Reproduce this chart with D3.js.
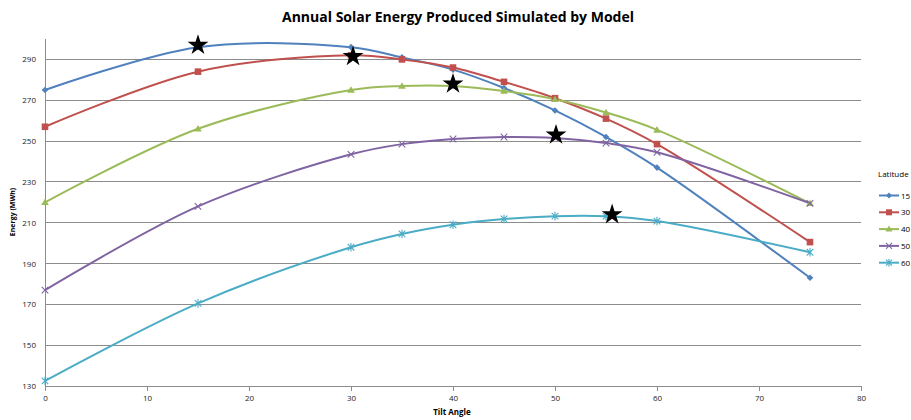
<!DOCTYPE html>
<html><head><meta charset="utf-8">
<script src="https://cdn.jsdelivr.net/npm/d3@7/dist/d3.min.js"></script>
<style>body{margin:0;background:#fff;}svg{display:block;}</style>
</head><body><svg id="c" width="911" height="420"></svg>
<script>
const tilts = [0, 15, 30, 35, 40, 45, 50, 55, 60, 75];
const latitudes = ["15", "30", "40", "50", "60"];
const lat15 = [275, 296, 296, 291, 285, 276, 265, 252, 237, 183];
const lat30 = [257, 284, 292, 290, 286, 279, 271, 261, 248.5, 200.5];
const lat40 = [220, 256, 275, 277, 277, 274.5, 270.5, 264, 255.5, 219.5];
const lat50 = [177, 218, 243.5, 248.5, 251, 252, 251.5, 249, 244.5, 219.5];
const lat60 = [132.5, 170.5, 198, 204.5, 209, 211.8, 213.2, 213.2, 210.8, 195.5];
const optTilt = [15, 30.2, 40, 50.1, 55.6];
const optEnergy = [297, 291.5, 278, 253, 214];
const xTicks = [0, 10, 20, 30, 40, 50, 60, 70, 80];
const yTicks = [130, 150, 170, 190, 210, 230, 250, 270, 290];
const colors = ["#4F81BD", "#C0504D", "#9BBB59", "#8064A2", "#4BACC6"];
const shapes = ["diamond", "square", "triangle", "x", "asterisk"];

const seriesValues = [lat15, lat30, lat40, lat50, lat60];
const svg = d3.select("#c");
const font = "'Open Sans', 'Liberation Sans', sans-serif";

const x = d3.scaleLinear().domain([0, 80]).range([45, 861]);
const y = d3.scaleLinear().domain([130, 300]).range([386, 39]);

// gridlines
svg.append("g").selectAll("line").data(yTicks.slice(1)).join("line")
  .attr("x1", x(0)).attr("x2", x(80))
  .attr("y1", d => y(d)).attr("y2", d => y(d))
  .attr("stroke", "#8c8c8c").attr("stroke-width", 1).attr("shape-rendering", "crispEdges");

// axes
const xAxis = svg.append("g").attr("transform", `translate(0,${y(130)})`)
  .call(d3.axisBottom(x).tickValues(xTicks).tickSize(5).tickPadding(4).tickFormat(d3.format("d")));
const yAxis = svg.append("g").attr("transform", `translate(${x(0)},0)`)
  .call(d3.axisLeft(y).tickValues(yTicks).tickSize(0).tickPadding(9).tickFormat(d3.format("d")));
[xAxis, yAxis].forEach(a => {
  a.select(".domain").attr("stroke", "#8c8c8c").attr("shape-rendering", "crispEdges");
  a.selectAll(".tick line").attr("stroke", "#8c8c8c").attr("shape-rendering", "crispEdges");
  a.selectAll("text").attr("font-family", font).attr("font-size", 8).attr("fill", "#222");
});
yAxis.select(".domain").attr("d", `M0,${y(300)}V${y(130)}`);

// lines
const line = d3.line().x((d, i) => x(tilts[i])).y(d => y(d)).curve(d3.curveCatmullRom.alpha(0.5));
seriesValues.forEach((vals, k) => {
  svg.append("path").attr("d", line(vals)).attr("fill", "none")
    .attr("stroke", colors[k]).attr("stroke-width", 2);
});

function marker(g, shape, color, s) {
  if (shape === "diamond") {
    g.append("path").attr("d", `M0,${-s}L${s},0L0,${s}L${-s},0Z`).attr("fill", color);
  } else if (shape === "square") {
    g.append("rect").attr("x", -s).attr("y", -s).attr("width", 2 * s).attr("height", 2 * s).attr("fill", color);
  } else if (shape === "triangle") {
    g.append("path").attr("d", `M0,${-s - 0.5}L${s + 0.5},${s - 0.5}L${-s - 0.5},${s - 0.5}Z`).attr("fill", color);
  } else if (shape === "x") {
    g.append("path").attr("d", `M${-s},${-s}L${s},${s}M${-s},${s}L${s},${-s}`).attr("stroke", color).attr("stroke-width", 1.1);
  } else {
    g.append("path").attr("d", `M${-s},${-s}L${s},${s}M${-s},${s}L${s},${-s}M0,${-s - 1}V${s + 1}`).attr("stroke", color).attr("stroke-width", 1.1);
  }
}
seriesValues.forEach((vals, k) => {
  vals.forEach((v, i) => {
    const g = svg.append("g").attr("transform", `translate(${x(tilts[i])},${y(v)})`);
    marker(g, shapes[k], colors[k], 3.3);
  });
});

// stars (optimum)
const star = d3.symbol().type(d3.symbolStar).size(135);
svg.append("g").selectAll("path").data(optTilt).join("path")
  .attr("d", star)
  .attr("transform", (d, i) => `translate(${x(d)},${y(optEnergy[i])})`)
  .attr("fill", "#000");

// title
svg.append("text").attr("x", 458).attr("y", 22).attr("text-anchor", "middle")
  .attr("font-family", font).attr("font-weight", "bold").attr("font-size", 14).attr("fill", "#000")
  .text("Annual Solar Energy Produced Simulated by Model");

// axis titles
svg.append("text").attr("x", 452).attr("y", 415).attr("text-anchor", "middle")
  .attr("font-family", font).attr("font-weight", "bold").attr("font-size", 8).attr("fill", "#000")
  .text("Tilt Angle");
svg.append("text").attr("transform", `translate(15,${212}) rotate(-90)`).attr("text-anchor", "middle")
  .attr("font-family", font).attr("font-weight", "bold").attr("font-size", 7).attr("fill", "#000")
  .text("Energy (MWh)");

// legend
svg.append("text").attr("x", 878).attr("y", 177).attr("font-family", font).attr("font-size", 8).attr("fill", "#000").text("Latitude");
latitudes.forEach((lab, k) => {
  const ly = 195.5 + k * 16.8;
  svg.append("line").attr("x1", 879).attr("x2", 899).attr("y1", ly).attr("y2", ly).attr("stroke", colors[k]).attr("stroke-width", 2);
  marker(svg.append("g").attr("transform", `translate(889,${ly})`), shapes[k], colors[k], 3);
  svg.append("text").attr("x", 901).attr("y", ly + 3).attr("font-family", font).attr("font-size", 8).attr("fill", "#000").text(lab);
});
</script></body></html>
